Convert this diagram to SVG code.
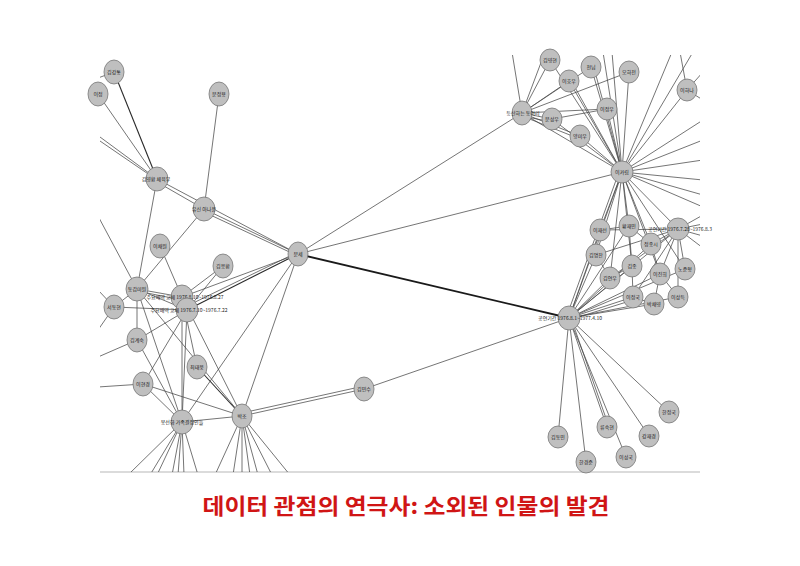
<svg xmlns="http://www.w3.org/2000/svg" width="800" height="566" viewBox="0 0 800 566">
<defs>
<style>
.e line{stroke:#474747;stroke-width:0.75;fill:none}
.e line.k{stroke:#1a1a1a;stroke-width:1.8}
.e line.d{stroke:#2a2a2a;stroke-width:1.1}
.n ellipse{fill:#bfbfbf;stroke:#767676;stroke-width:0.8}
.n text{font-family:"Noto Sans CJK KR","Noto Sans",sans-serif;font-size:5px;fill:#1a1a1a;text-anchor:middle}
.title{font-family:"Noto Sans CJK KR","Noto Sans CJK SC",sans-serif;font-size:22px;font-weight:bold;fill:#d01515;text-anchor:middle}
</style>
<clipPath id="area"><rect x="100" y="55" width="600" height="417"/></clipPath>
</defs>
<rect width="800" height="566" fill="#fff"/>
<line x1="100" y1="472" x2="700" y2="472" stroke="#cfcfcf" stroke-width="1.5"/>
<g id="connectors" class="e" clip-path="url(#area)">
<line class="d" x1="114" y1="72" x2="157" y2="179"/>
<line x1="98" y1="94" x2="157" y2="179"/>
<line x1="100" y1="137" x2="157" y2="179"/>
<line x1="100" y1="141" x2="157" y2="180"/>
<line x1="114" y1="72" x2="98" y2="78"/>
<line x1="219" y1="94" x2="204" y2="209"/>
<line x1="157" y1="179" x2="298" y2="254"/>
<line x1="157" y1="182" x2="204" y2="209"/>
<line x1="204" y1="209" x2="298" y2="254"/>
<line x1="204" y1="212" x2="298" y2="256"/>
<line x1="157" y1="179" x2="137" y2="289"/>
<line x1="204" y1="209" x2="137" y2="289"/>
<line x1="98" y1="216" x2="137" y2="289"/>
<line x1="160" y1="246" x2="182" y2="297"/>
<line x1="223" y1="266" x2="182" y2="297"/>
<line x1="223" y1="266" x2="187" y2="310"/>
<line x1="137" y1="289" x2="182" y2="297"/>
<line x1="137" y1="289" x2="187" y2="310"/>
<line x1="137" y1="291" x2="182" y2="300"/>
<line x1="182" y1="297" x2="298" y2="254"/>
<line class="d" x1="187" y1="310" x2="298" y2="254"/>
<line x1="187" y1="306" x2="298" y2="252"/>
<line x1="114" y1="307" x2="137" y2="289"/>
<line x1="114" y1="307" x2="187" y2="310"/>
<line x1="98" y1="290" x2="114" y2="307"/>
<line x1="98" y1="330" x2="114" y2="307"/>
<line x1="137" y1="340" x2="137" y2="289"/>
<line x1="98" y1="357" x2="137" y2="340"/>
<line x1="137" y1="340" x2="182" y2="422"/>
<line x1="137" y1="340" x2="187" y2="310"/>
<line x1="197" y1="367" x2="182" y2="297"/>
<line class="d" x1="197" y1="367" x2="242" y2="416"/>
<line x1="143" y1="384" x2="182" y2="422"/>
<line x1="143" y1="384" x2="242" y2="416"/>
<line x1="98" y1="387" x2="143" y2="384"/>
<line x1="143" y1="384" x2="187" y2="310"/>
<line x1="182" y1="422" x2="242" y2="416"/>
<line x1="182" y1="422" x2="137" y2="289"/>
<line x1="182" y1="422" x2="182" y2="297"/>
<line x1="182" y1="422" x2="187" y2="310"/>
<line x1="137" y1="289" x2="242" y2="416"/>
<line x1="182" y1="297" x2="242" y2="416"/>
<line x1="298" y1="254" x2="182" y2="422"/>
<line x1="298" y1="254" x2="242" y2="416"/>
<line x1="182" y1="422" x2="128" y2="475"/>
<line x1="182" y1="422" x2="150" y2="475"/>
<line x1="182" y1="422" x2="157" y2="475"/>
<line x1="182" y1="422" x2="172" y2="475"/>
<line x1="182" y1="422" x2="178" y2="475"/>
<line x1="182" y1="422" x2="184" y2="475"/>
<line x1="182" y1="422" x2="198" y2="475"/>
<line x1="242" y1="416" x2="215" y2="475"/>
<line x1="242" y1="416" x2="233" y2="475"/>
<line x1="242" y1="416" x2="242" y2="475"/>
<line x1="242" y1="416" x2="250" y2="475"/>
<line x1="242" y1="416" x2="258" y2="475"/>
<line x1="242" y1="416" x2="272" y2="475"/>
<line x1="242" y1="416" x2="290" y2="475"/>
<line x1="242" y1="416" x2="364" y2="389"/>
<line x1="242" y1="413" x2="364" y2="386"/>
<line x1="364" y1="389" x2="569" y2="318"/>
<line class="k" x1="298" y1="254" x2="569" y2="318"/>
<line x1="298" y1="254" x2="622" y2="172"/>
<line x1="298" y1="254" x2="522" y2="113"/>
<line x1="522" y1="113" x2="550" y2="60"/>
<line x1="522" y1="113" x2="569" y2="81"/>
<line x1="522" y1="113" x2="591" y2="67"/>
<line x1="522" y1="113" x2="629" y2="72"/>
<line x1="522" y1="113" x2="552" y2="119"/>
<line x1="522" y1="116" x2="552" y2="122"/>
<line x1="522" y1="113" x2="607" y2="109"/>
<line x1="522" y1="113" x2="580" y2="136"/>
<line x1="522" y1="116" x2="580" y2="139"/>
<line x1="522" y1="113" x2="622" y2="172"/>
<line x1="522" y1="113" x2="512" y2="52"/>
<line x1="522" y1="113" x2="545" y2="52"/>
<line x1="552" y1="119" x2="607" y2="109"/>
<line x1="622" y1="172" x2="550" y2="60"/>
<line x1="622" y1="172" x2="569" y2="81"/>
<line x1="622" y1="172" x2="572" y2="82"/>
<line x1="622" y1="172" x2="591" y2="67"/>
<line x1="622" y1="172" x2="594" y2="68"/>
<line x1="622" y1="172" x2="629" y2="72"/>
<line x1="622" y1="172" x2="552" y2="119"/>
<line x1="622" y1="172" x2="607" y2="109"/>
<line x1="622" y1="172" x2="580" y2="136"/>
<line x1="622" y1="172" x2="687" y2="90"/>
<line x1="622" y1="172" x2="603" y2="52"/>
<line x1="622" y1="172" x2="612" y2="52"/>
<line x1="622" y1="172" x2="672" y2="52"/>
<line x1="622" y1="172" x2="693" y2="52"/>
<line x1="622" y1="172" x2="703" y2="120"/>
<line x1="622" y1="172" x2="703" y2="140"/>
<line x1="622" y1="172" x2="703" y2="160"/>
<line x1="622" y1="172" x2="703" y2="180"/>
<line x1="622" y1="172" x2="703" y2="195"/>
<line x1="622" y1="172" x2="703" y2="207"/>
<line x1="622" y1="172" x2="600" y2="230"/>
<line x1="622" y1="172" x2="629" y2="226"/>
<line x1="622" y1="172" x2="678" y2="229"/>
<line x1="622" y1="172" x2="596" y2="255"/>
<line x1="622" y1="172" x2="651" y2="244"/>
<line x1="622" y1="172" x2="632" y2="266"/>
<line x1="622" y1="172" x2="660" y2="274"/>
<line x1="622" y1="172" x2="685" y2="269"/>
<line x1="622" y1="172" x2="610" y2="278"/>
<line x1="622" y1="172" x2="569" y2="318"/>
<line x1="619" y1="172" x2="566" y2="318"/>
<line x1="687" y1="90" x2="703" y2="72"/>
<line x1="687" y1="90" x2="680" y2="52"/>
<line x1="687" y1="90" x2="703" y2="100"/>
<line x1="678" y1="229" x2="703" y2="215"/>
<line x1="678" y1="229" x2="703" y2="224"/>
<line x1="678" y1="229" x2="703" y2="236"/>
<line x1="678" y1="229" x2="703" y2="248"/>
<line x1="678" y1="229" x2="596" y2="255"/>
<line x1="678" y1="229" x2="600" y2="230"/>
<line x1="678" y1="229" x2="610" y2="278"/>
<line x1="678" y1="229" x2="651" y2="244"/>
<line x1="678" y1="229" x2="678" y2="297"/>
<line x1="678" y1="229" x2="633" y2="297"/>
<line x1="678" y1="229" x2="660" y2="274"/>
<line x1="678" y1="229" x2="685" y2="269"/>
<line x1="678" y1="229" x2="569" y2="318"/>
<line x1="600" y1="230" x2="629" y2="226"/>
<line x1="600" y1="230" x2="596" y2="255"/>
<line x1="596" y1="255" x2="610" y2="278"/>
<line x1="629" y1="226" x2="651" y2="244"/>
<line x1="629" y1="226" x2="632" y2="266"/>
<line x1="632" y1="266" x2="633" y2="297"/>
<line x1="651" y1="244" x2="660" y2="274"/>
<line x1="660" y1="274" x2="654" y2="304"/>
<line x1="633" y1="297" x2="654" y2="304"/>
<line x1="610" y1="278" x2="632" y2="266"/>
<line x1="660" y1="274" x2="678" y2="297"/>
<line x1="569" y1="318" x2="600" y2="230"/>
<line x1="569" y1="318" x2="596" y2="255"/>
<line x1="569" y1="318" x2="610" y2="278"/>
<line x1="569" y1="318" x2="629" y2="226"/>
<line x1="569" y1="318" x2="651" y2="244"/>
<line x1="569" y1="318" x2="632" y2="266"/>
<line x1="569" y1="318" x2="660" y2="274"/>
<line x1="569" y1="318" x2="633" y2="297"/>
<line x1="569" y1="318" x2="654" y2="304"/>
<line x1="569" y1="318" x2="678" y2="297"/>
<line x1="569" y1="318" x2="685" y2="269"/>
<line x1="569" y1="320" x2="633" y2="300"/>
<line x1="569" y1="318" x2="669" y2="412"/>
<line x1="569" y1="318" x2="649" y2="436"/>
<line x1="569" y1="318" x2="607" y2="427"/>
<line x1="571" y1="318" x2="609" y2="427"/>
<line x1="569" y1="318" x2="626" y2="457"/>
<line x1="569" y1="318" x2="558" y2="437"/>
<line x1="569" y1="318" x2="586" y2="462"/>
</g>
<g id="A1" class="n"><ellipse cx="114" cy="72" rx="10" ry="12"/><text x="114" y="74">김강통</text></g>
<g id="A2" class="n"><ellipse cx="98" cy="94" rx="10" ry="12"/><text x="98" y="96">이정</text></g>
<g id="A3" class="n"><ellipse cx="219" cy="94" rx="10" ry="12"/><text x="219" y="96">문정용</text></g>
<g id="A4" class="n"><ellipse cx="157" cy="179" rx="11" ry="12"/><text x="156" y="181">김영환 체육부</text></g>
<g id="A5" class="n"><ellipse cx="204" cy="209" rx="11" ry="12"/><text x="204" y="211">유신 아나운</text></g>
<g id="A6" class="n"><ellipse cx="160" cy="246" rx="10" ry="12"/><text x="160" y="248">이채원</text></g>
<g id="A7" class="n"><ellipse cx="223" cy="266" rx="10" ry="12"/><text x="223" y="268">김응환</text></g>
<g id="A8" class="n"><ellipse cx="137" cy="289" rx="11" ry="12"/><text x="137" y="291">동감미원</text></g>
<g id="A9" class="n"><ellipse cx="182" cy="297" rx="11" ry="12"/><text x="185" y="299">주요배역 교체 1976.8.10~1976.8.27</text></g>
<g id="A10" class="n"><ellipse cx="187" cy="310" rx="11" ry="12"/><text x="189" y="312">주요배역 교체 1976.7.10~1976.7.22</text></g>
<g id="A11" class="n"><ellipse cx="114" cy="307" rx="10" ry="12"/><text x="114" y="309">서동현</text></g>
<g id="A12" class="n"><ellipse cx="137" cy="340" rx="10" ry="12"/><text x="137" y="342">김계숙</text></g>
<g id="A13" class="n"><ellipse cx="197" cy="367" rx="10" ry="12"/><text x="197" y="369">최태웅</text></g>
<g id="A14" class="n"><ellipse cx="143" cy="384" rx="10" ry="12"/><text x="143" y="386">이현경</text></g>
<g id="A15" class="n"><ellipse cx="182" cy="422" rx="11" ry="12"/><text x="182" y="424">봉선화 가족결정인들</text></g>
<g id="A16" class="n"><ellipse cx="242" cy="416" rx="10" ry="12"/><text x="242" y="418">박조</text></g>
<g id="B1" class="n"><ellipse cx="298" cy="254" rx="10" ry="12"/><text x="298" y="256">문세</text></g>
<g id="B2" class="n"><ellipse cx="364" cy="389" rx="10" ry="12"/><text x="364" y="391">김민수</text></g>
<g id="C1" class="n"><ellipse cx="550" cy="60" rx="10" ry="11"/><text x="550" y="62">김영현</text></g>
<g id="C2" class="n"><ellipse cx="569" cy="81" rx="10" ry="11"/><text x="569" y="83">이호우</text></g>
<g id="C3" class="n"><ellipse cx="591" cy="67" rx="10" ry="11"/><text x="591" y="69">천님</text></g>
<g id="C4" class="n"><ellipse cx="629" cy="72" rx="10" ry="11"/><text x="629" y="74">오하전</text></g>
<g id="C5" class="n"><ellipse cx="522" cy="113" rx="10" ry="12"/><text x="523" y="115">등산하는 동아리</text></g>
<g id="C6" class="n"><ellipse cx="552" cy="119" rx="10" ry="11"/><text x="552" y="121">문성우</text></g>
<g id="C7" class="n"><ellipse cx="607" cy="109" rx="10" ry="11"/><text x="607" y="111">이정우</text></g>
<g id="C8" class="n"><ellipse cx="580" cy="136" rx="10" ry="11"/><text x="580" y="138">양미우</text></g>
<g id="C9" class="n"><ellipse cx="687" cy="90" rx="10" ry="11"/><text x="687" y="92">이하나</text></g>
<g id="C10" class="n"><ellipse cx="622" cy="172" rx="11" ry="11"/><text x="622" y="174">이카림</text></g>
<g id="C11" class="n"><ellipse cx="600" cy="230" rx="10" ry="11"/><text x="600" y="232">이재선</text></g>
<g id="C12" class="n"><ellipse cx="629" cy="226" rx="10" ry="11"/><text x="629" y="228">황재민</text></g>
<g id="C13" class="n"><ellipse cx="678" cy="229" rx="11" ry="11"/><text x="680" y="231">공연기간 1976.7.28~1976.8.3</text></g>
<g id="C14" class="n"><ellipse cx="596" cy="255" rx="10" ry="11"/><text x="596" y="257">김명찬</text></g>
<g id="C15" class="n"><ellipse cx="651" cy="244" rx="10" ry="11"/><text x="651" y="246">정종시</text></g>
<g id="C16" class="n"><ellipse cx="632" cy="266" rx="10" ry="11"/><text x="632" y="268">김종</text></g>
<g id="C17" class="n"><ellipse cx="610" cy="278" rx="10" ry="11"/><text x="610" y="280">김연우</text></g>
<g id="C18" class="n"><ellipse cx="660" cy="274" rx="10" ry="11"/><text x="660" y="276">이진희</text></g>
<g id="C19" class="n"><ellipse cx="685" cy="269" rx="10" ry="11"/><text x="685" y="271">노준형</text></g>
<g id="C20" class="n"><ellipse cx="633" cy="297" rx="10" ry="11"/><text x="633" y="299">이정국</text></g>
<g id="C21" class="n"><ellipse cx="654" cy="304" rx="10" ry="11"/><text x="654" y="306">박채영</text></g>
<g id="C22" class="n"><ellipse cx="678" cy="297" rx="10" ry="11"/><text x="678" y="299">이상득</text></g>
<g id="D1" class="n"><ellipse cx="569" cy="318" rx="11" ry="12"/><text x="570" y="320">공연기간 1976.8.1~1977.4.10</text></g>
<g id="D2" class="n"><ellipse cx="669" cy="412" rx="10" ry="11"/><text x="669" y="414">한정국</text></g>
<g id="D3" class="n"><ellipse cx="607" cy="427" rx="10" ry="11"/><text x="607" y="429">류숙현</text></g>
<g id="D4" class="n"><ellipse cx="649" cy="436" rx="10" ry="11"/><text x="649" y="438">강재경</text></g>
<g id="D5" class="n"><ellipse cx="558" cy="437" rx="10" ry="11"/><text x="558" y="439">김동민</text></g>
<g id="D6" class="n"><ellipse cx="586" cy="462" rx="10" ry="11"/><text x="586" y="464">한경준</text></g>
<g id="D7" class="n"><ellipse cx="626" cy="457" rx="10" ry="11"/><text x="626" y="459">이성국</text></g>
<text class="title" x="406" y="514" textLength="407" lengthAdjust="spacingAndGlyphs">데이터 관점의 연극사: 소외된 인물의 발견</text>
</svg>
